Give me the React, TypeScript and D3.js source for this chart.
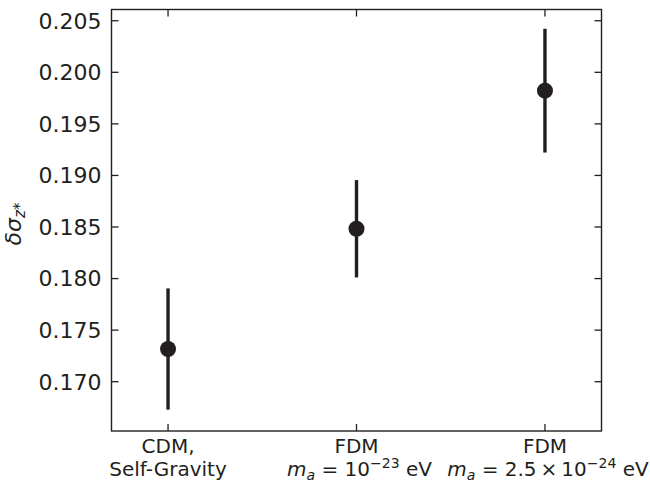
import React from "react";
import * as d3 from "d3";

const categories = ["CDM", "FDM1", "FDM2"];
const values = [0.17317, 0.18483, 0.19822];
const errors = [0.00588, 0.00472, 0.00600];
const yTicks = [0.170, 0.175, 0.180, 0.185, 0.190, 0.195, 0.200, 0.205];

const W = 650, H = 487;
const L = 111.5, R = 601.5, T = 9.5, B = 431;
const FONT = "'DejaVu Sans', sans-serif";
const INK = "#231f20";

export default function App() {
  const x = d3.scaleLinear().domain([-0.3, 2.3]).range([L, R]);
  const y = d3.scaleLinear().domain([0.16522, 0.20609]).range([B, T]);
  const tl = 7;
  const fs = 20;
  const yfs = 22;
  const ss = 14;
  const l1 = 452.5;
  const l2 = 476;

  const xLabel = (i: number) => {
    const cx = x(i);
    if (i === 0) {
      return (
        <g key={i}>
          <text x={cx} y={l1} textAnchor="middle" fontSize={fs}>CDM,</text>
          <text x={cx} y={l2} textAnchor="middle" fontSize={fs}>Self-Gravity</text>
        </g>
      );
    }
    const exp = i === 1 ? "\u221223" : "\u221224";
    const mant = i === 1 ? "10" : "2.5\u2009\u00d7\u200910";
    return (
      <g key={i}>
        <text x={cx} y={l1} textAnchor="middle" fontSize={fs}>FDM</text>
        <text x={cx + 3} y={l2} textAnchor="middle" fontSize={fs}>
          <tspan fontStyle="italic">m</tspan>
          <tspan fontSize={ss} fontStyle="italic" dy={4}>a</tspan>
          <tspan dy={-4}>{" = " + mant}</tspan>
          <tspan fontSize={ss} dy={-8}>{exp}</tspan>
          <tspan dy={8}>{" eV"}</tspan>
        </text>
      </g>
    );
  };

  return (
    <svg width={W} height={H} style={{ position: "absolute", left: 0, top: 0 }} fontFamily={FONT} fill={INK}>
      <rect width={W} height={H} fill="#fff" />
      {categories.map((c, i) => (
        <g key={c}>
          <line x1={x(i)} x2={x(i)} y1={y(values[i] - errors[i])} y2={y(values[i] + errors[i])} stroke={INK} strokeWidth={3.4} />
          <circle cx={x(i)} cy={y(values[i])} r={8} fill={INK} />
        </g>
      ))}
      <rect x={L} y={T} width={R - L} height={B - T} fill="none" stroke={INK} strokeWidth={1.4} />
      {yTicks.map((t) => (
        <g key={t}>
          <line x1={L} x2={L + tl} y1={y(t)} y2={y(t)} stroke={INK} strokeWidth={1.3} />
          <line x1={R} x2={R - tl} y1={y(t)} y2={y(t)} stroke={INK} strokeWidth={1.3} />
          <text x={L - 10} y={y(t)} dy="0.36em" textAnchor="end" fontSize={yfs}>{t.toFixed(3)}</text>
        </g>
      ))}
      {categories.map((c, i) => (
        <g key={"xt" + c}>
          <line x1={x(i)} x2={x(i)} y1={B} y2={B - tl} stroke={INK} strokeWidth={1.3} />
          <line x1={x(i)} x2={x(i)} y1={T} y2={T + tl} stroke={INK} strokeWidth={1.3} />
        </g>
      ))}
      {categories.map((c, i) => xLabel(i))}
      <text transform="translate(21,224) rotate(-90)" textAnchor="middle" fontSize={yfs}>
        <tspan fontStyle="italic">δσ</tspan>
        <tspan fontSize={15} fontStyle="italic" dy={4}>z</tspan>
        <tspan fontSize={15}>*</tspan>
      </text>
    </svg>
  );
}
